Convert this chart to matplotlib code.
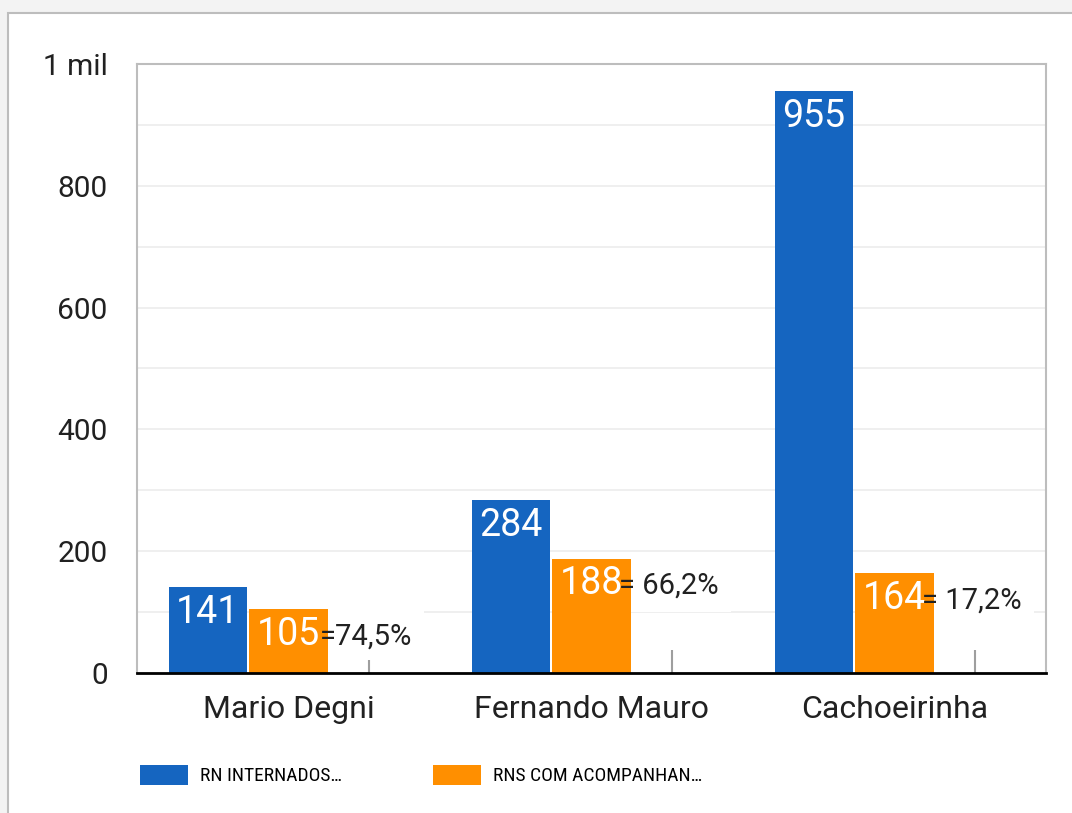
"""Bar chart: RN internados vs RNs com acompanhante, per hospital."""
import matplotlib
matplotlib.use("Agg")
import matplotlib.pyplot as plt
from matplotlib.patches import Patch, Rectangle
import numpy as np

hospitals = ["Mario Degni", "Fernando Mauro", "Cachoeirinha"]
internados = [141, 284, 955]
acompanhante = [105, 188, 164]
pct_labels = ["=74,5%", "= 66,2%", "= 17,2%"]
marker_heights = [22, 38, 38]
legend_labels = ["RN INTERNADOS…", "RNS COM ACOMPANHAN…"]
ytick_vals = [0, 200, 400, 600, 800, 1000]
ytick_labels = ["0", "200", "400", "600", "800", "1 mil"]

BLUE = "#1565c0"
ORANGE = "#ff8f00"
BORDER = "#bdbdbd"
TEXT = "#212121"

plt.rcParams["font.family"] = ["Roboto", "DejaVu Sans"]

W, H = 1072, 813
fig = plt.figure(figsize=(W / 100, H / 100), dpi=100)
fig.patch.set_facecolor("#f3f3f3")
# white card with gray border
fig.add_artist(Rectangle((8 / W, -0.01), 1.0, 1 - 13 / H + 0.01,
                         transform=fig.transFigure, facecolor="white",
                         edgecolor=BORDER, linewidth=1.5, zorder=0))

ax = fig.add_axes([137 / W, 1 - 673 / H, (1046 - 137) / W, (673 - 64) / H])
ax.set_facecolor("white")

x = np.arange(len(hospitals))
off = 0.267
width = 0.258

ax.bar(x - off, internados, width, color=BLUE, zorder=2)
ax.bar(x, acompanhante, width, color=ORANGE, zorder=2)
ax.vlines(x + off, 0, marker_heights, color="#9e9e9e", linewidth=1.5, zorder=2)

for xs, vals in ((x - off, internados), (x, acompanhante)):
    for xi, v in zip(xs, vals):
        ax.annotate(str(v), (xi, v), xytext=(0, -18), textcoords="offset points",
                    ha="center", va="center", color="white", fontsize=27,
                    zorder=4)

for xi, v, lab in zip(x, acompanhante, pct_labels):
    # white box sits above the grid but below the bars, text on top
    ax.text(xi + 0.255, v - 45, lab, ha="center", va="center", fontsize=21,
            color="none", zorder=1.5, clip_on=False,
            bbox=dict(facecolor="white", edgecolor="none", pad=9))
    ax.text(xi + 0.255, v - 45, lab, ha="center", va="center", fontsize=21,
            color=TEXT, zorder=5, clip_on=False)

ax.set_xlim(-0.5, 2.5)
ax.set_ylim(0, 1000)
ax.set_yticks(ytick_vals)
ax.set_yticklabels(ytick_labels, fontsize=21.5, color=TEXT)
ax.set_yticks(np.arange(100, 1000, 100), minor=True)
ax.set_xticks(x)
ax.set_xticklabels(hospitals, fontsize=23, color=TEXT)
ax.tick_params(axis="y", which="both", length=0, pad=21)
ax.tick_params(axis="x", length=0, pad=16)
ax.grid(axis="y", which="both", color="#ececec", linewidth=1.2, zorder=0)
ax.set_axisbelow(True)

for side in ("top", "left", "right"):
    ax.spines[side].set_color(BORDER)
    ax.spines[side].set_linewidth(1.5)
    ax.spines[side].set_zorder(1.4)
ax.spines["bottom"].set_color("black")
ax.spines["bottom"].set_linewidth(2)
ax.spines["bottom"].set_zorder(3)

handles = [Patch(facecolor=BLUE), Patch(facecolor=ORANGE)]
fig.legend(handles, legend_labels, loc="center left",
           bbox_to_anchor=(122 / W, 1 - 775 / H), ncol=2, frameon=False,
           prop={"family": ["Roboto Condensed", "DejaVu Sans Condensed",
                            "Liberation Sans Narrow", "Roboto"],
                 "size": 14},
           handlelength=2.47, handleheight=1.24, handletextpad=0.62,
           columnspacing=4.7)

fig.savefig("out.png", dpi=100, facecolor=fig.get_facecolor())
